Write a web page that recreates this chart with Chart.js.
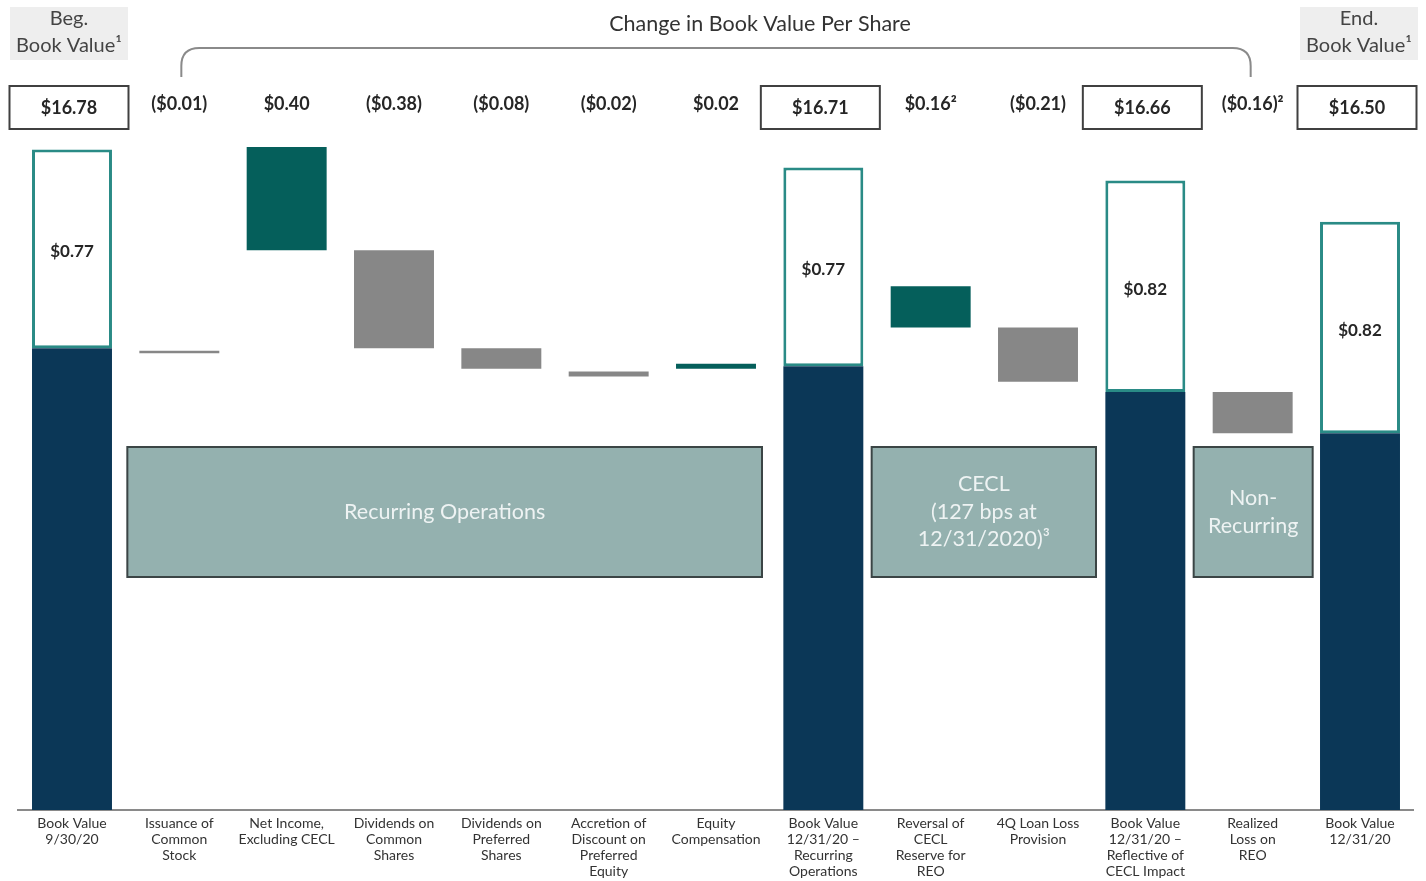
<!DOCTYPE html>
<html>
<head>
<meta charset="utf-8">
<script src="https://cdn.jsdelivr.net/npm/chart.js@4.4.1/dist/chart.umd.min.js"></script>
<style>
  html, body { margin: 0; padding: 0; background: #ffffff; }
  #wrap { position: relative; width: 1426px; height: 881px; }
</style>
</head>
<body>
<div id="wrap"><canvas id="bvps" width="1426" height="881"></canvas></div>
<script>
// Categories along the bottom axis
const categories = [
  ["Book Value", "9/30/20"],
  ["Issuance of", "Common", "Stock"],
  ["Net Income,", "Excluding CECL"],
  ["Dividends on", "Common", "Shares"],
  ["Dividends on", "Preferred", "Shares"],
  ["Accretion of", "Discount on", "Preferred", "Equity"],
  ["Equity", "Compensation"],
  ["Book Value", "12/31/20 \u2013", "Recurring", "Operations"],
  ["Reversal of", "CECL", "Reserve for", "REO"],
  ["4Q Loan Loss", "Provision"],
  ["Book Value", "12/31/20 \u2013", "Reflective of", "CECL Impact"],
  ["Realized", "Loss on", "REO"],
  ["Book Value", "12/31/20"]
];

// Value labels printed above each column
const topLabels = ["$16.78", "($0.01)", "$0.40", "($0.38)", "($0.08)", "($0.02)", "$0.02",
                   "$16.71", "$0.16\u00B2", "($0.21)", "$16.66", "($0.16)\u00B2", "$16.50"];

// Book value per share for the total columns
const bookValues  = [16.78, null, null, null, null, null, null, 16.71, null, null, 16.66, null, 16.50];
// CECL reserve portion at the top of each total column
const ceclReserve = [0.77,  null, null, null, null, null, null, 0.77,  null, null, 0.82,  null, 0.82];

// Changes between totals: lower edge of each floating bar and its signed amount
const stepLow    = [null, 15.99, 16.39, 16.01, 15.93, 15.90, 15.93, null, 16.09, 15.88, null, 15.68, null];
const stepChange = [null, -0.01, 0.40, -0.38, -0.08, -0.02, 0.02, null, 0.16, -0.21, null, -0.16, null];

// Bracketed groups of change columns
const groupNames = [["Recurring Operations"], ["CECL", "(127 bps at", "12/31/2020)\u00B3"], ["Non-", "Recurring"]];
const groupFrom  = [1, 8, 11];
const groupTo    = [6, 9, 11];

// Truncated value axis
const axisMin = 14.22;
const axisMax = 16.85;

const NAVY = '#0b3757', TEAL = '#055f5b', GREY = '#878787', TEAL_EDGE = '#2a8b86';
const FONT = 'Lato, "Open Sans", sans-serif';

const navyData  = bookValues.map((v, i) => v == null ? null : [axisMin, +(v - ceclReserve[i]).toFixed(2)]);
const whiteData = bookValues.map((v, i) => v == null ? null : [+(v - ceclReserve[i]).toFixed(2), v]);
const stepData  = stepLow.map((lo, i) => lo == null ? null : [lo, +(lo + Math.abs(stepChange[i])).toFixed(3)]);
const stepColors = stepChange.map(c => c == null ? 'rgba(0,0,0,0)' : (c > 0 ? TEAL : GREY));

const barStyle = { grouped: false, barPercentage: 0.745, categoryPercentage: 1.0 };

const annotations = {
  id: 'annotations',
  afterDatasetsDraw(chart) {
    const { ctx, scales: { x } } = chart;
    const cx = i => x.getPixelForValue(i);
    ctx.save();
    ctx.textAlign = 'center';
    ctx.textBaseline = 'middle';

    // amount of CECL reserve inside each white segment
    ctx.font = 'bold 17px ' + FONT;
    ctx.fillStyle = '#262626';
    chart.getDatasetMeta(1).data.forEach((el, i) => {
      if (ceclReserve[i] == null) return;
      ctx.fillText('$' + ceclReserve[i].toFixed(2), el.x, (el.y + el.base) / 2 + 3);
    });

    // corner headers
    const header = (left, lines) => {
      ctx.fillStyle = '#eeeeee';
      ctx.fillRect(left, 7, 118, 53);
      ctx.fillStyle = '#444444';
      ctx.font = '20px ' + FONT;
      ctx.fillText(lines[0], left + 59, 19);
      ctx.fillText(lines[1], left + 59, 46);
    };
    header(10, ["Beg.", "Book Value\u00B9"]);
    header(1300, ["End.", "Book Value\u00B9"]);

    // title and bracket over the change columns
    ctx.fillStyle = '#333333';
    ctx.font = '21.5px ' + FONT;
    ctx.fillText('Change in Book Value Per Share', 760, 24);

    const bl = cx(1) + 2, br = cx(11) - 2, r = 18;
    ctx.strokeStyle = '#8a8a8a';
    ctx.lineWidth = 2;
    ctx.beginPath();
    ctx.moveTo(bl, 77);
    ctx.lineTo(bl, 48 + r);
    ctx.quadraticCurveTo(bl, 48, bl + r, 48);
    ctx.lineTo(br - r, 48);
    ctx.quadraticCurveTo(br, 48, br, 48 + r);
    ctx.lineTo(br, 77);
    ctx.stroke();

    // labels above the columns
    ctx.font = 'bold 18px ' + FONT;
    topLabels.forEach((t, i) => {
      const px = cx(i);
      if (bookValues[i] != null) {
        ctx.strokeStyle = '#404040';
        ctx.lineWidth = 2;
        ctx.strokeRect(px - 62.5, 86, 119, 43);
        ctx.fillStyle = '#262626';
        ctx.fillText(t, px - 3, 108);
      } else {
        ctx.fillStyle = '#262626';
        ctx.fillText(t, px, 104);
      }
    });

    // group boxes
    const insetL = [52, 59, 59], insetR = [46, 58, 60];
    groupNames.forEach((lines, g) => {
      const left = cx(groupFrom[g]) - insetL[g];
      const right = cx(groupTo[g]) + insetR[g];
      const top = 447, h = 130;
      ctx.fillStyle = '#94b1af';
      ctx.fillRect(left, top, right - left, h);
      ctx.strokeStyle = '#3b4545';
      ctx.lineWidth = 2;
      ctx.strokeRect(left, top, right - left, h);
      ctx.fillStyle = '#eef3f3';
      ctx.font = '21.5px ' + FONT;
      const lh = 27.5;
      const y0 = top + h / 2 - (lines.length - 1) * lh / 2;
      lines.forEach((ln, k) => ctx.fillText(ln, (left + right) / 2, y0 + k * lh));
    });
    ctx.restore();
  }
};

new Chart(document.getElementById('bvps'), {
  type: 'bar',
  data: {
    labels: categories,
    datasets: [
      { label: 'Book value excl. CECL', data: navyData, backgroundColor: NAVY, order: 0, ...barStyle },
      { label: 'CECL reserve', data: whiteData, backgroundColor: '#ffffff', borderColor: TEAL_EDGE,
        borderWidth: 3, borderSkipped: false, order: 1, ...barStyle },
      { label: 'Change', data: stepData, backgroundColor: stepColors, order: 2, ...barStyle }
    ]
  },
  options: {
    responsive: false,
    animation: false,
    devicePixelRatio: 1,
    layout: { padding: { top: 131.5, left: 18.33, right: 12.33, bottom: 0 } },
    plugins: { legend: { display: false }, tooltip: { enabled: false } },
    scales: {
      x: {
        grid: { display: true, drawOnChartArea: false, drawTicks: false },
        border: { display: true, color: '#8a8a8a', width: 2 },
        ticks: {
          color: '#333333', autoSkip: false, maxRotation: 0, padding: 5,
          font: { family: FONT, size: 14, lineHeight: 1.15 }
        },
        afterFit: s => { s.height = 71; }
      },
      y: { display: false, min: axisMin, max: axisMax }
    }
  },
  plugins: [annotations]
});
</script>
</body>
</html>
